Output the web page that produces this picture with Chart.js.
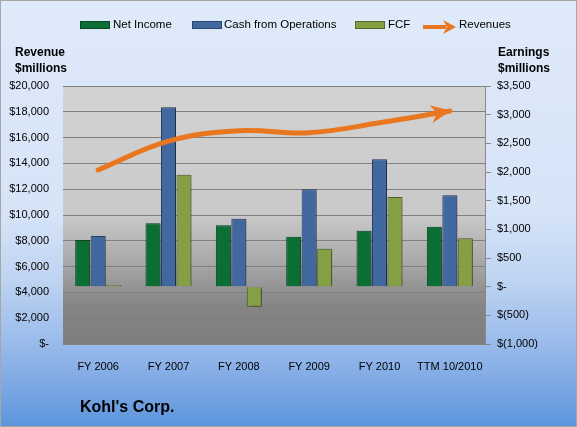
<!DOCTYPE html>
<html>
<head>
<meta charset="utf-8">
<script src="https://cdn.jsdelivr.net/npm/chart.js@4/dist/chart.umd.min.js"></script>
<style>
  body { margin: 0; }
  #wrap {
    position: relative; width: 577px; height: 427px; box-sizing: border-box;
    border: 1px solid #a6a6a6;
    background: linear-gradient(to bottom, #dfeafa 0%, #d6e4f8 50%, #bdd3f1 66%, #9bbceb 80%, #78a5e3 92%, #5c95dc 100%);
    font-family: "Liberation Sans", Arial, sans-serif; overflow: hidden;
  }
  #chart { position: absolute; left: -1px; top: -1px; }
  .lab { position: absolute; font-size: 11.5px; color: #000; white-space: nowrap; }
  .sw { position: absolute; width: 28px; height: 6px; }
  .ttl { position: absolute; font-weight: bold; font-size: 12px; line-height: 16px; }
</style>
</head>
<body>
<div id="wrap">
  <canvas id="chart" width="577" height="427"></canvas>

  <div class="sw" style="left:79px;top:20px;background:#0b6e35;border:1px solid #074a23"></div>
  <div class="lab" style="left:112px;top:17px">Net Income</div>
  <div class="sw" style="left:191px;top:20px;background:#41699f;border:1px solid #2a4670"></div>
  <div class="lab" style="left:223px;top:17px">Cash from Operations</div>
  <div class="sw" style="left:354px;top:20px;background:#85a044;border:1px solid #55692a"></div>
  <div class="lab" style="left:387px;top:17px">FCF</div>
  <svg style="position:absolute;left:421px;top:17px" width="36" height="18">
    <line x1="1" y1="9" x2="24" y2="9" stroke="#e8771f" stroke-width="4"/>
    <polygon points="21,2 34,9 21,16 25,9" fill="#e8771f"/>
  </svg>
  <div class="lab" style="left:458px;top:17px">Revenues</div>

  <div class="ttl" style="left:14px;top:43px">Revenue<br>$millions</div>
  <div class="ttl" style="left:497px;top:43px">Earnings<br>$millions</div>
  <div class="ttl" style="left:79px;top:396px;font-size:16px;line-height:20px">Kohl's Corp.</div>
</div>

<script>
const categories = ['FY 2006', 'FY 2007', 'FY 2008', 'FY 2009', 'FY 2010', 'TTM 10/2010'];
const netIncome = [814, 1106, 1071, 872, 977, 1046];
const cashOps = [884, 3129, 1186, 1699, 2222, 1594];
const fcf = [30, 1953, -349, 663, 1564, 844];
const revenues = [13490, 15730, 16530, 16380, 17150, 18060];

function money(v) {
    if (v === 0) return '$-';
    if (v < 0) return '$(' + Math.abs(v).toLocaleString('en-US') + ')';
    return '$' + v.toLocaleString('en-US');
}

// plot area gradient
const plotBg = {
    id: 'plotBg',
    beforeDraw(chart) {
        const a = chart.chartArea, c = chart.ctx;
        const g = c.createLinearGradient(0, a.top, 0, a.bottom);
        g.addColorStop(0, '#d3d3d3');
        g.addColorStop(0.5, '#c9c9c9');
        g.addColorStop(0.68, '#a9a9a9');
        g.addColorStop(0.85, '#858585');
        g.addColorStop(1, '#7e7e7e');
        c.save();
        c.fillStyle = g;
        c.fillRect(a.left, a.top, a.right - a.left, a.bottom - a.top);
        c.restore();
    }
};

// little shadow under the bars
const barShadow = {
    id: 'barShadow',
    beforeDatasetDraw(chart, args) {
        if (args.meta.type !== 'bar') return;
        const c = chart.ctx;
        c.save();
        c.shadowColor = 'rgba(0,0,0,0.35)';
        c.shadowBlur = 3;
        c.shadowOffsetX = 2;
        c.shadowOffsetY = 1;
    },
    afterDatasetDraw(chart, args) {
        if (args.meta.type !== 'bar') return;
        chart.ctx.restore();
    }
};

// arrow head at the end of the revenue line
const arrowHead = {
    id: 'arrowHead',
    afterDatasetsDraw(chart) {
        const meta = chart.getDatasetMeta(0);
        const pts = meta.data;
        const p = pts[pts.length - 1];
        let fx = p.cp1x, fy = p.cp1y;
        if (fx === undefined || (fx === p.x && fy === p.y)) {
            fx = pts[pts.length - 2].x; fy = pts[pts.length - 2].y;
        }
        const ang = Math.atan2(p.y - fy, p.x - fx);
        const c = chart.ctx;
        c.save();
        c.translate(p.x, p.y);
        c.rotate(ang);
        c.fillStyle = '#e8771f';
        c.beginPath();
        c.moveTo(1, 0);
        c.lineTo(-19, -9);
        c.lineTo(-13, 0);
        c.lineTo(-19, 9);
        c.closePath();
        c.fill();
        c.restore();
    }
};

const ctx = document.getElementById('chart').getContext('2d');
const chart = new Chart(ctx, {
    data: {
        labels: categories,
        datasets: [
            {
                type: 'line',
                label: 'Revenues',
                data: revenues,
                yAxisID: 'y',
                borderColor: '#e8771f',
                borderWidth: 5,
                borderCapStyle: 'round',
                tension: 0.4,
                pointRadius: 0,
                order: 0
            },
            {
                type: 'bar',
                label: 'Net Income',
                data: netIncome,
                yAxisID: 'y1',
                backgroundColor: '#0b6e35',
                borderColor: '#0a4a25',
                borderWidth: 1,
                categoryPercentage: 0.66,
                barPercentage: 0.97,
                order: 1
            },
            {
                type: 'bar',
                label: 'Cash from Operations',
                data: cashOps,
                yAxisID: 'y1',
                backgroundColor: '#41699f',
                borderColor: '#273f63',
                borderWidth: 1,
                categoryPercentage: 0.66,
                barPercentage: 0.97,
                order: 1
            },
            {
                type: 'bar',
                label: 'FCF',
                data: fcf,
                yAxisID: 'y1',
                backgroundColor: '#85a044',
                borderColor: '#4f6328',
                borderWidth: 1,
                categoryPercentage: 0.66,
                barPercentage: 0.97,
                order: 1
            }
        ]
    },
    options: {
        responsive: false,
        animation: false,
        layout: { padding: { top: 86, left: 0, right: 0, bottom: 57 } },
        plugins: {
            legend: { display: false },
            tooltip: { enabled: false }
        },
        scales: {
            x: {
                offset: true,
                grid: { display: false },
                border: { display: false },
                ticks: {
                    color: '#000',
                    padding: 8,
                    maxRotation: 0,
                    autoSkip: false,
                    font: { family: 'Liberation Sans', size: 11 }
                },
                afterFit(s) { s.height = 26; }
            },
            y: {
                position: 'left',
                min: 0,
                max: 20000,
                grid: { color: '#808080', drawTicks: false },
                border: { display: false },
                ticks: {
                    stepSize: 2000,
                    padding: 14,
                    color: '#000',
                    font: { family: 'Liberation Sans', size: 11 },
                    callback: v => money(v)
                },
                afterFit(s) { s.width = 63; }
            },
            y1: {
                position: 'right',
                min: -1000,
                max: 3500,
                grid: { drawOnChartArea: false, color: '#8a8a8a', tickLength: 6 },
                border: { color: '#8a8a8a' },
                ticks: {
                    stepSize: 500,
                    padding: 6,
                    color: '#000',
                    font: { family: 'Liberation Sans', size: 11 },
                    callback: v => money(v)
                },
                afterFit(s) { s.width = 92; }
            }
        }
    },
    plugins: [plotBg, barShadow, arrowHead]
});
</script>
</body>
</html>
